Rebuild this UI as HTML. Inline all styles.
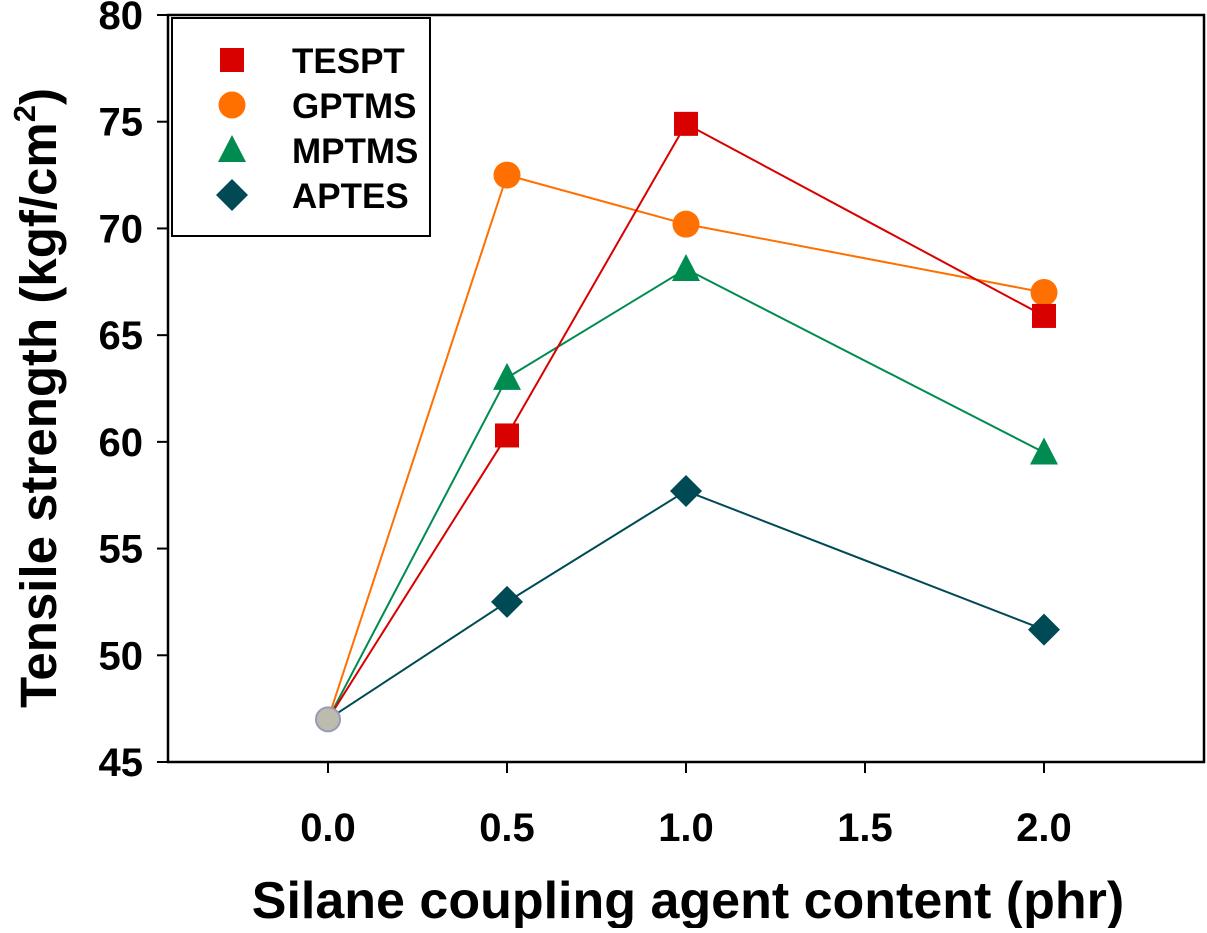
<!DOCTYPE html>
<html><head><meta charset="utf-8"><style>
body{margin:0;background:#fff}
svg text{font-family:"Liberation Sans",Arial,sans-serif;font-weight:bold;fill:#000}
</style></head><body>
<svg width="1207" height="928" viewBox="0 0 1207 928">
<g id="axes"></g><g id="plot"></g><g id="legend"></g>
<text x="688" y="918" text-anchor="middle" font-size="52">Silane coupling agent content (phr)</text>
<text transform="translate(56,398) rotate(-90)" text-anchor="middle" font-size="51">Tensile strength (kgf/cm<tspan font-size="31" dy="-21">2</tspan><tspan dy="21">)</tspan></text>
</svg>
<script>
const xValues=[0,0.5,1.0,2.0];
const xTicks=["0.0","0.5","1.0","1.5","2.0"];
const yTicks=[45,50,55,60,65,70,75,80];
const tespt=[47,60.3,74.9,65.9];
const gptms=[47,72.5,70.2,67.0];
const mptms=[47,63.0,68.1,59.5];
const aptes=[47,52.5,57.7,51.2];
const seriesNames=["TESPT","GPTMS","MPTMS","APTES"];
const NS="http://www.w3.org/2000/svg";
const L=168,R=1204,T=15,B=762;
const sx=v=>328+v*358;
const sy=v=>B-(v-45)*(B-T)/35;
function mk(tag,attrs,parent){const e=document.createElementNS(NS,tag);for(const k in attrs)e.setAttribute(k,attrs[k]);parent.appendChild(e);return e;}
const ax=document.getElementById('axes'),pl=document.getElementById('plot'),lg=document.getElementById('legend');
let f=mk('rect',{x:L,y:T,width:R-L,height:B-T,fill:'none',stroke:'#000','stroke-width':2.5},ax);


yTicks.forEach(v=>{
 let t=mk('line',{x1:157,x2:L,y1:sy(v),y2:sy(v),stroke:'#000','stroke-width':2},ax);
 
 
 let tx=mk('text',{x:143,y:sy(v)+14,'text-anchor':'end','font-size':40},ax);tx.textContent=v;
 
 
});
xTicks.forEach(s=>{
 const v=parseFloat(s);
 let t=mk('line',{x1:sx(v),x2:sx(v),y1:B,y2:B+11,stroke:'#000','stroke-width':2},ax);
 
 
 let tx=mk('text',{x:sx(v),y:841,'text-anchor':'middle','font-size':40},ax);tx.textContent=s;
 
 
});
const cols=["#d90000","#ff7000","#008c50","#004a55"];
const shapes=["square","circle","triangle","diamond"];
function marker(shape,x,y,c,parent,r){
 let e;
 if(shape==='square')e=mk('rect',{x:x-r,y:y-r,width:2*r,height:2*r,fill:c},parent);
 else if(shape==='circle')e=mk('circle',{cx:x,cy:y,r:r+1.5,fill:c},parent);
 else if(shape==='triangle')e=mk('polygon',{points:`${x},${y-r-3} ${x+r+2},${y+r} ${x-r-2},${y+r}`,fill:c},parent);
 else e=mk('polygon',{points:`${x},${y-r-4} ${x+r+4},${y} ${x},${y+r+4} ${x-r-4},${y}`,fill:c},parent);
 return e;
}
const data=[tespt,gptms,mptms,aptes];
const order=[3,2,1,0];
order.forEach(i=>{
 const d=data[i];
 let p=mk('polyline',{points:d.map((v,j)=>sx(xValues[j])+','+sy(v)).join(' '),fill:'none',stroke:cols[i],'stroke-width':2},pl);
 
 
});
order.forEach(i=>{
 const d=data[i];
 d.forEach((v,j)=>{ if(j===0)return;
  let m=marker(shapes[i],sx(xValues[j]),sy(v),cols[i],pl,12);
  
  
 });
});
let g=mk('circle',{cx:sx(xValues[0]),cy:sy(tespt[0]),r:12,fill:'#bcbcae',stroke:'#9a9ab8','stroke-width':2},pl);


let lb=mk('rect',{x:172,y:18,width:258,height:218,fill:'#fff',stroke:'#000','stroke-width':2},lg);


seriesNames.forEach((n,i)=>{
 const y=60+i*45;
 let m=marker(shapes[i],232,y,cols[i],lg,12);
 
 
 let t=mk('text',{x:292,y:y+13,'font-size':35},lg);t.textContent=n;
 
 
});
</script>
</body></html>
